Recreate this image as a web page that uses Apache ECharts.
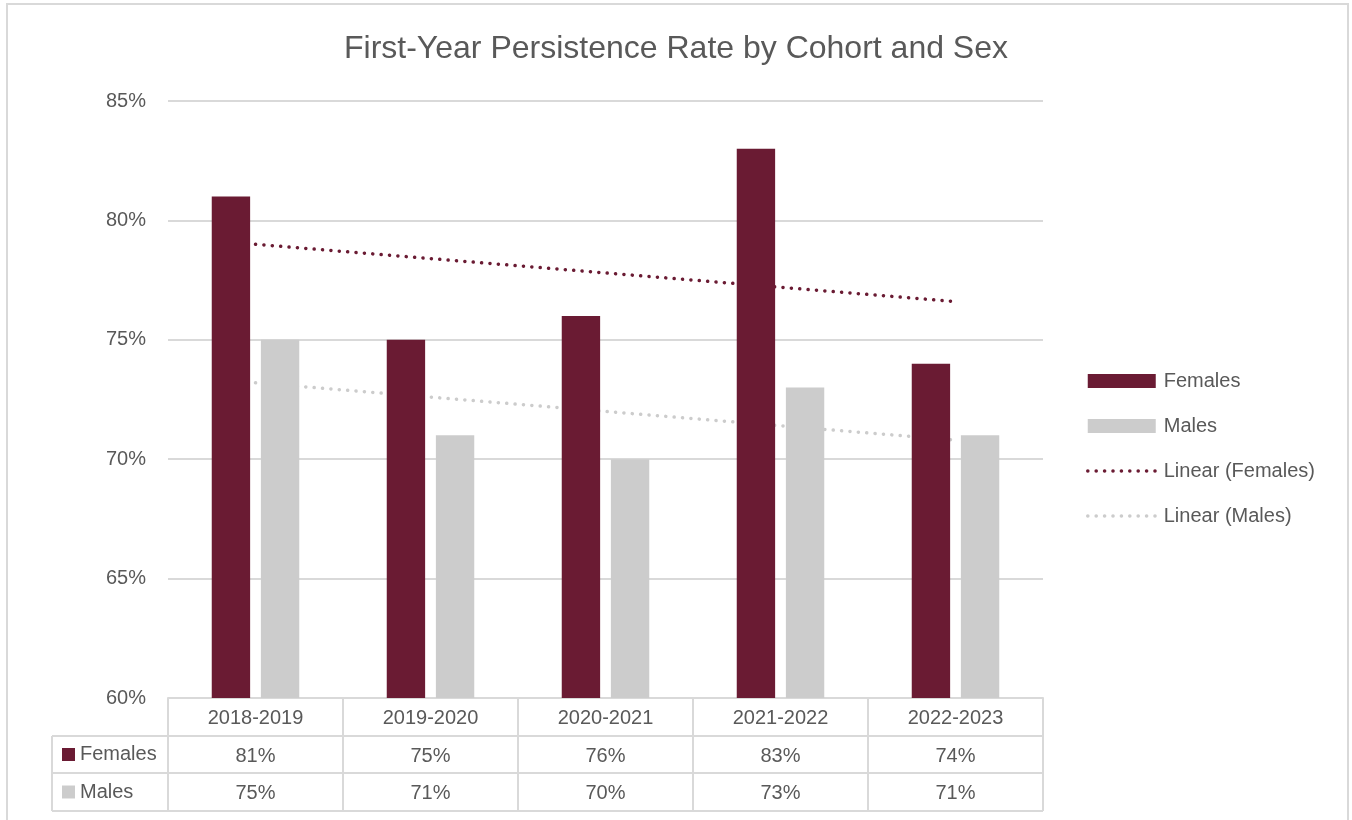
<!DOCTYPE html>
<html>
<head>
<meta charset="utf-8">
<title>First-Year Persistence Rate by Cohort and Sex</title>
<script src="https://cdn.jsdelivr.net/npm/echarts@6/dist/echarts.min.js"></script>
<style>
  html, body { margin: 0; padding: 0; background: #ffffff; }
  #chart { width: 1352px; height: 820px; }
</style>
</head>
<body>
<div id="chart"></div>
<script>
// Cohorts and first-year persistence rates (percent)
const cohorts = ['2018-2019', '2019-2020', '2020-2021', '2021-2022', '2022-2023'];
const females = [81, 75, 76, 83, 74];
const males = [75, 71, 70, 73, 71];
const yTicks = [60, 65, 70, 75, 80, 85];

// Ordinary least-squares linear trend over the cohort index
function linearTrend(values) {
  const n = values.length;
  const xs = values.map((_, i) => i + 1);
  const mx = xs.reduce((a, b) => a + b, 0) / n;
  const my = values.reduce((a, b) => a + b, 0) / n;
  let num = 0, den = 0;
  xs.forEach((x, i) => { num += (x - mx) * (values[i] - my); den += (x - mx) * (x - mx); });
  const slope = num / den;
  return xs.map(x => +(my + slope * (x - mx)).toFixed(4));
}

const FEMALE_COLOR = '#6a1b33';
const MALE_COLOR = '#cccccc';
const TEXT_COLOR = '#595959';
const RULE_COLOR = '#d9d9d9';
const FONT = '"Liberation Sans", Arial, sans-serif';
const DOTS = [0.1, 8.3];

const GRID = { left: 168, top: 101, width: 875, height: 597 };
const ROWS = [38, 37, 38];       // header row, Females row, Males row
const LABEL_COL_LEFT = 52;

const chart = echarts.init(document.getElementById('chart'), null, { renderer: 'canvas' });

const tableAxis = (values, offset) => ({
  type: 'category',
  gridIndex: 0,
  position: 'bottom',
  offset: offset,
  data: cohorts,
  axisLine: { show: false },
  axisTick: { show: false },
  axisLabel: {
    margin: 10,
    color: TEXT_COLOR,
    fontFamily: FONT,
    fontSize: 20,
    formatter: (v, i) => values[i] + '%'
  }
});

const trendLegend = (name, color) => ({
  name: name,
  itemStyle: { opacity: 0 },
  lineStyle: { color: color, width: 3.5, type: DOTS, cap: 'round' }
});

chart.setOption({
  animation: false,
  backgroundColor: '#ffffff',
  title: {
    text: 'First-Year Persistence Rate by Cohort and Sex',
    left: 'center',
    top: 28,
    textStyle: {
      fontFamily: FONT,
      fontWeight: 'normal',
      fontSize: 32,
      color: TEXT_COLOR
    }
  },
  legend: {
    orient: 'vertical',
    left: 1086,
    top: 371,
    padding: 0,
    itemWidth: 68,
    itemHeight: 14,
    itemGap: 25,
    textStyle: { color: TEXT_COLOR, fontFamily: FONT, fontSize: 20, padding: [0, 0, 0, 3] },
    data: [
      { name: 'Females', icon: 'rect' },
      { name: 'Males', icon: 'rect' },
      trendLegend('Linear (Females)', FEMALE_COLOR),
      trendLegend('Linear (Males)', MALE_COLOR)
    ]
  },
  grid: GRID,
  xAxis: [
    {
      type: 'category',
      data: cohorts,
      axisLine: { show: true, lineStyle: { color: RULE_COLOR, width: 2 } },
      axisTick: { show: false },
      axisLabel: { margin: 10, color: TEXT_COLOR, fontFamily: FONT, fontSize: 20 }
    },
    tableAxis(females, ROWS[0]),
    tableAxis(males, ROWS[0] + ROWS[1])
  ],
  yAxis: {
    type: 'value',
    min: yTicks[0],
    max: yTicks[yTicks.length - 1],
    interval: 5,
    axisLine: { show: false },
    axisTick: { show: false },
    splitLine: { lineStyle: { color: RULE_COLOR, width: 2 } },
    axisLabel: {
      margin: 22,
      color: TEXT_COLOR,
      fontFamily: FONT,
      fontSize: 20,
      formatter: '{value}%'
    }
  },
  series: [
    {
      name: 'Females', type: 'bar', z: 3,
      data: females,
      barGap: '28%', barCategoryGap: '50%',
      itemStyle: { color: FEMALE_COLOR }
    },
    {
      name: 'Males', type: 'bar', z: 3,
      data: males,
      barGap: '28%', barCategoryGap: '50%',
      itemStyle: { color: MALE_COLOR }
    },
    {
      name: 'Linear (Females)', type: 'line', z: 2,
      data: linearTrend(females),
      symbol: 'none', silent: true,
      itemStyle: { color: FEMALE_COLOR },
      lineStyle: { color: FEMALE_COLOR, width: 3.5, type: DOTS, cap: 'round' }
    },
    {
      name: 'Linear (Males)', type: 'line', z: 2,
      data: linearTrend(males),
      symbol: 'none', silent: true,
      itemStyle: { color: MALE_COLOR },
      lineStyle: { color: MALE_COLOR, width: 3.5, type: DOTS, cap: 'round' }
    }
  ]
});

// Data table rules and row headers, positioned from the category axis
function drawTable() {
  const yBase = chart.convertToPixel({ yAxisIndex: 0 }, yTicks[0]);
  const step = chart.convertToPixel({ xAxisIndex: 0 }, cohorts[1]) - chart.convertToPixel({ xAxisIndex: 0 }, cohorts[0]);
  const x0 = chart.convertToPixel({ xAxisIndex: 0 }, cohorts[0]) - step / 2;
  const xEnd = x0 + step * cohorts.length;
  const y1 = yBase + ROWS[0];
  const y2 = y1 + ROWS[1];
  const y3 = y2 + ROWS[2];
  const line = (xa, ya, xb, yb) => ({
    type: 'line', silent: true,
    shape: { x1: xa, y1: ya, x2: xb, y2: yb },
    style: { stroke: RULE_COLOR, lineWidth: 2 }
  });
  const els = [];
  // outer frame of the chart area
  els.push({ type: 'rect', silent: true, shape: { x: 7, y: 4, width: 1341, height: 840 },
             style: { fill: 'none', stroke: RULE_COLOR, lineWidth: 2 } });
  [y1, y2, y3].forEach(y => els.push(line(LABEL_COL_LEFT, y, xEnd, y)));
  for (let i = 0; i <= cohorts.length; i++) {
    const x = x0 + step * i;
    els.push(line(x, yBase, x, y3));
  }
  els.push(line(LABEL_COL_LEFT, y1, LABEL_COL_LEFT, y3));
  const rowLabels = [
    { name: 'Females', color: FEMALE_COLOR, cy: (y1 + y2) / 2 },
    { name: 'Males', color: MALE_COLOR, cy: (y2 + y3) / 2 }
  ];
  rowLabels.forEach(r => {
    els.push({ type: 'rect', silent: true,
      shape: { x: 62, y: r.cy - 6.5, width: 13, height: 13 },
      style: { fill: r.color } });
    els.push({ type: 'text', silent: true, x: 80, y: r.cy,
      style: { text: r.name, fill: TEXT_COLOR, font: '20px ' + FONT, verticalAlign: 'middle' } });
  });
  chart.setOption({ graphic: { elements: els } });
}
drawTable();
</script>
</body>
</html>
